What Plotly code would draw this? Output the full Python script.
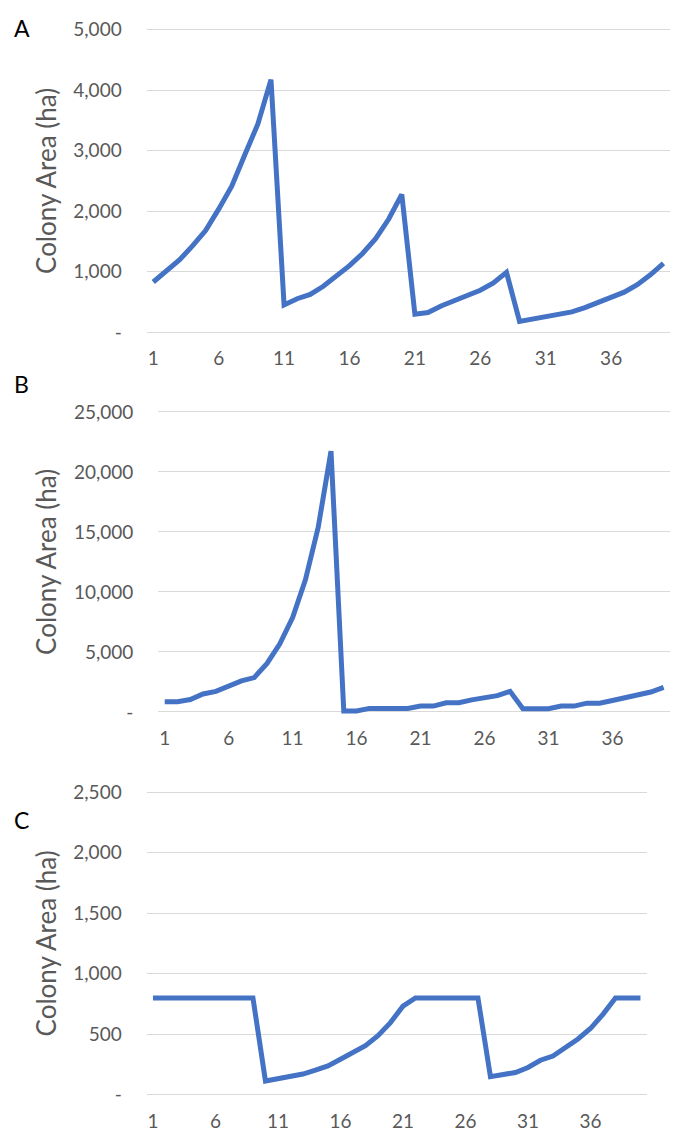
import plotly.graph_objects as go

# ---------------- data ----------------
weeks = list(range(1, 41))
x_tick_vals = [1, 6, 11, 16, 21, 26, 31, 36]
x_tick_text = ["1", "6", "11", "16", "21", "26", "31", "36"]

area_a = [830, 1014, 1193, 1426, 1681, 2034, 2413, 2934, 3444, 4176,
          450, 553, 624, 759, 922, 1101, 1301, 1546, 1871, 2278,
          298, 325, 434, 515, 597, 694, 813, 990, 179, 217,
          255, 287, 336, 407, 488, 564, 662, 786, 949, 1139]
area_b = [847, 850, 1038, 1503, 1721, 2213, 2596, 2869, 4044, 5683,
          7869, 11011, 15383, 21721, 80, 80, 300, 300, 300, 300,
          492, 492, 765, 765, 1011, 1175, 1366, 1721, 273, 273,
          273, 492, 492, 738, 738, 956, 1175, 1366, 1667, 2049]
area_c = [800, 800, 800, 800, 800, 800, 800, 800, 800, 114,
          133, 152, 171, 203, 238, 293, 352, 406, 488, 596,
          732, 800, 800, 800, 800, 800, 800, 149, 168, 184,
          225, 285, 320, 393, 461, 547, 664, 800, 800, 800]

a_yticks = [0, 1000, 2000, 3000, 4000, 5000]
a_ylabels = ["-", "1,000", "2,000", "3,000", "4,000", "5,000"]
b_yticks = [0, 5000, 10000, 15000, 20000, 25000]
b_ylabels = ["-", "5,000", "10,000", "15,000", "20,000", "25,000"]
c_yticks = [0, 500, 1000, 1500, 2000, 2500]
c_ylabels = ["-", "500", "1,000", "1,500", "2,000", "2,500"]

panel_letters = ["A", "B", "C"]
y_title = "Colony Area (ha)"

# ---------------- layout helpers ----------------
PAGE_W, PAGE_H = 682, 1140
OFF = 8                      # default body margin of the page
W, H = PAGE_W - 2 * OFF, PAGE_H - 2 * OFF
FONT = "Lato, Carlito, Calibri, sans-serif"
GRAY = "#595959"
GRID = "#D9D9D9"
BLUE = "#4472C4"
EXT = 3  # px of padding so edge gridlines are drawn


def px_x(p):
    return (p - OFF) / W


def px_y(p):
    return 1 - (p - OFF) / H


def geometry(left, right, top, bottom, ymax):
    per_px = ymax / (bottom - top)
    xdom = [px_x(left), px_x(right)]
    ydom = [px_y(bottom + EXT), px_y(top - EXT)]
    yrng = [-per_px * EXT, ymax + per_px * EXT]
    return xdom, ydom, yrng


# page-pixel boxes of each plot area (left, right, top gridline, zero gridline)
panels = [
    (area_a, a_yticks, a_ylabels, (146.7, 670, 21, 328.3)),
    (area_b, b_yticks, b_ylabels, (158.3, 670, 409.3, 714.3)),
    (area_c, c_yticks, c_ylabels, (146.7, 646.7, 795.7, 1103.3)),
]
letter_pos = [(22, 19.5), (21.7, 381), (21.5, 824.5)]

fig = go.Figure()
layout = dict(
    width=W, height=H,
    margin=dict(l=0, r=0, t=0, b=0),
    paper_bgcolor="white", plot_bgcolor="white",
    showlegend=False,
    font=dict(family=FONT, color=GRAY),
)
annotations = []

for k, (vals, yt, yl, (left, right, top, bottom)) in enumerate(panels):
    n = "" if k == 0 else str(k + 1)
    xdom, ydom, yrng = geometry(left, right, top, bottom, yt[-1])
    fig.add_trace(go.Scatter(
        x=weeks, y=vals, mode="lines",
        line=dict(color=BLUE, width=5),
        xaxis="x" + n, yaxis="y" + n, hoverinfo="x+y",
    ))
    layout["xaxis" + n] = dict(
        domain=xdom, range=[0.5, 40.5], anchor="y" + n,
        tickmode="array", tickvals=x_tick_vals, ticktext=x_tick_text,
        showgrid=False, zeroline=False, showline=False, ticks="",
        ticklabelstandoff=10,
        tickfont=dict(family=FONT, size=19, color=GRAY),
    )
    layout["yaxis" + n] = dict(
        domain=ydom, range=yrng, anchor="x" + n,
        tickmode="array", tickvals=yt, ticktext=yl,
        showgrid=True, gridcolor=GRID, gridwidth=1.3,
        zeroline=False, showline=False, ticks="",
        ticklabelstandoff=24,
        tickfont=dict(family=FONT, size=19, color=GRAY),
    )
    annotations.append(dict(
        text=y_title, textangle=-90, showarrow=False,
        xref="paper", yref="paper",
        x=px_x(46), y=px_y((top + bottom) / 2),
        xanchor="center", yanchor="middle",
        font=dict(family=FONT, size=26, color=GRAY),
    ))
    lx, ly = letter_pos[k]
    annotations.append(dict(
        text=panel_letters[k], showarrow=False,
        xref="paper", yref="paper",
        x=px_x(lx), y=px_y(ly), xanchor="center", yanchor="middle",
        font=dict(family=FONT, size=23, color="black"),
    ))

layout["annotations"] = annotations
fig.update_layout(**layout)
fig.write_html("out.html", config={"displayModeBar": False})
